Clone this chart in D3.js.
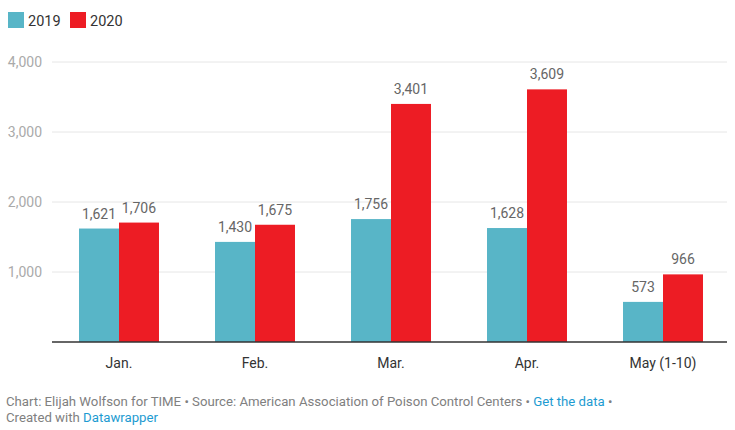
<!DOCTYPE html>
<html>
<head>
<meta charset="utf-8">
<script src="https://cdn.jsdelivr.net/npm/d3@7"></script>
<style>
  body { margin: 0; background: #fff; font-family: Roboto, "Noto Sans", sans-serif; }
</style>
</head>
<body>
<div id="chart"></div>
<script>
// data
const months = ["Jan.", "Feb.", "Mar.", "Apr.", "May (1-10)"];
const years = ["2019", "2020"];
const values2019 = [1621, 1430, 1756, 1628, 573];
const values2020 = [1706, 1675, 3401, 3609, 966];
const yTicks = [1000, 2000, 3000, 4000];
const colors = ["#58b5c7", "#ed1c24"];

const width = 735, height = 430;
const plot = { left: 51, right: 731, top: 62, bottom: 342 };

const svg = d3.select("#chart")
  .append("svg")
  .attr("width", width)
  .attr("height", height);

// legend
const legend = svg.append("g");
years.forEach((yr, i) => {
  const lx = 8 + i * 62;
  legend.append("rect")
    .attr("x", lx).attr("y", 12)
    .attr("width", 16).attr("height", 16)
    .attr("fill", colors[i]);
  legend.append("text")
    .attr("x", lx + 20).attr("y", 25.5)
    .attr("font-size", 14.5)
    .attr("fill", "#333")
    .text(yr);
});

// scales
const x0 = d3.scaleBand()
  .domain(months)
  .range([plot.left, plot.right])
  .paddingInner(0.412)
  .paddingOuter(0.206);

const x1 = d3.scaleBand()
  .domain(years)
  .range([0, x0.bandwidth()]);

const y = d3.scaleLinear()
  .domain([0, 4000])
  .range([plot.bottom, plot.top]);

// gridlines
svg.append("g")
  .selectAll("line")
  .data(yTicks)
  .join("line")
  .attr("x1", 52).attr("x2", 727)
  .attr("y1", d => y(d)).attr("y2", d => y(d))
  .attr("stroke", "#e6e6e6")
  .attr("stroke-width", 1);

// y labels
svg.append("g")
  .selectAll("text")
  .data(yTicks)
  .join("text")
  .attr("x", 42)
  .attr("y", d => y(d) + 5)
  .attr("text-anchor", "end")
  .attr("font-size", 14)
  .attr("fill", "#aaa")
  .text(d => d3.format(",")(d));

// bars
const rows = months.map((m, i) => ({ month: m, vals: [values2019[i], values2020[i]] }));

const groups = svg.append("g")
  .selectAll("g")
  .data(rows)
  .join("g")
  .attr("transform", d => `translate(${x0(d.month)},0)`);

groups.selectAll("rect")
  .data(d => d.vals.map((v, i) => ({ year: years[i], value: v, i })))
  .join("rect")
  .attr("x", d => x1(d.year))
  .attr("y", d => y(d.value))
  .attr("width", x1.bandwidth())
  .attr("height", d => y(0) - y(d.value))
  .attr("fill", d => colors[d.i]);

groups.selectAll("text")
  .data(d => d.vals.map((v, i) => ({ year: years[i], value: v })))
  .join("text")
  .attr("x", d => x1(d.year) + x1.bandwidth() / 2)
  .attr("y", d => y(d.value) - 10)
  .attr("text-anchor", "middle")
  .attr("font-size", 14)
  .attr("fill", "#666")
  .text(d => d3.format(",")(d.value));

// baseline
svg.append("line")
  .attr("x1", 52).attr("x2", 727)
  .attr("y1", y(0)).attr("y2", y(0))
  .attr("stroke", "#333")
  .attr("stroke-width", 1.5);

// x labels
svg.append("g")
  .selectAll("text")
  .data(months)
  .join("text")
  .attr("x", d => x0(d) + x0.bandwidth() / 2)
  .attr("y", 368)
  .attr("text-anchor", "middle")
  .attr("font-size", 14)
  .attr("fill", "#333")
  .text(d => d);

// footer
const foot = svg.append("text")
  .attr("x", 6).attr("y", 406)
  .attr("font-size", 13.2)
  .attr("fill", "#808080");
foot.append("tspan").text("Chart: Elijah Wolfson for TIME • Source: American Association of Poison Control Centers • ");
foot.append("tspan").attr("fill", "#1d9bd1").text("Get the data");
foot.append("tspan").text(" •");

const foot2 = svg.append("text")
  .attr("x", 6).attr("y", 422)
  .attr("font-size", 13.2)
  .attr("fill", "#808080");
foot2.append("tspan").text("Created with ");
foot2.append("tspan").attr("fill", "#1d9bd1").text("Datawrapper");
</script>
</body>
</html>
